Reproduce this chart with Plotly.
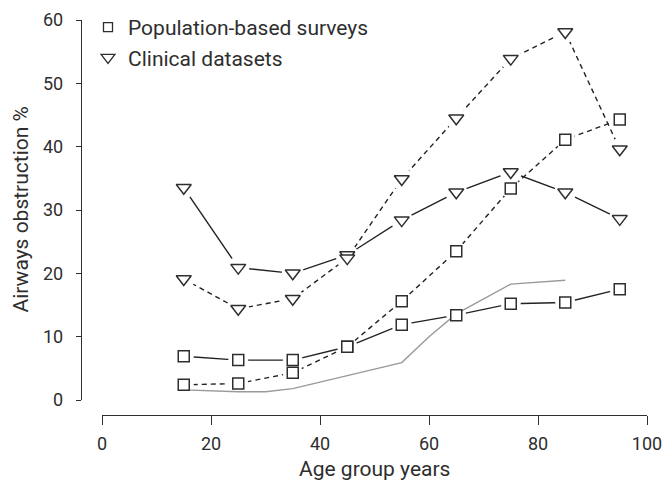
import plotly.graph_objects as go

# ---- data ----
ages = [15, 25, 35, 45, 55, 65, 75, 85, 95]
pop_solid = [6.9, 6.3, 6.3, 8.4, 11.9, 13.4, 15.2, 15.4, 17.5]
pop_dashed = [2.4, 2.6, 4.3, 8.4, 15.6, 23.5, 33.4, 41.1, 44.3]
clin_solid = [33.5, 20.9, 20.0, 22.9, 28.4, 32.8, 36.0, 32.8, 28.6]
clin_dashed = [19.1, 14.4, 16.0, 22.4, 34.9, 44.5, 53.9, 58.1, 39.6]
ref_ages = [15, 25, 30, 35, 55, 60, 65, 75, 85]
ref_values = [1.6, 1.3, 1.3, 1.8, 5.9, 10.0, 13.6, 18.3, 18.9]

x_ticks = [0, 20, 40, 60, 80, 100]
y_ticks = [0, 10, 20, 30, 40, 50, 60]
legend_labels = ["Population-based surveys", "Clinical datasets"]

FONT = "Roboto"
INK = "#2e2e2e"
LINE = "#222222"

series = [
    (pop_solid, "solid", "square", 11),
    (pop_dashed, "5px,4px", "square", 11),
    (clin_solid, "solid", "triangle-down", 13),
    (clin_dashed, "5px,4px", "triangle-down", 13),
]

fig = go.Figure()

# lines
for vals, dash, sym, sz in series:
    fig.add_trace(go.Scatter(x=ages, y=vals, mode="lines",
                             line=dict(color=LINE, width=1.4, dash=dash),
                             showlegend=False, hoverinfo="skip"))
# white halos to create gaps around the markers
for vals, dash, sym, sz in series:
    fig.add_trace(go.Scatter(x=ages, y=vals, mode="markers",
                             marker=dict(symbol="circle", size=sz + 9, color="white",
                                         line=dict(width=0)),
                             showlegend=False, hoverinfo="skip"))
# grey reference line
fig.add_trace(go.Scatter(x=ref_ages, y=ref_values, mode="lines",
                         line=dict(color="#9a9a9a", width=1.4),
                         showlegend=False, hoverinfo="skip"))
# markers
for vals, dash, sym, sz in series:
    fig.add_trace(go.Scatter(x=ages, y=vals, mode="markers",
                             marker=dict(symbol=sym, size=sz, color="white",
                                         line=dict(color=INK, width=1.5)),
                             showlegend=False))
# legend entries
fig.add_trace(go.Scatter(x=[None], y=[None], mode="markers", name=legend_labels[0],
                         marker=dict(symbol="square", size=9, color="white",
                                     line=dict(color=INK, width=1.3))))
fig.add_trace(go.Scatter(x=[None], y=[None], mode="markers", name=legend_labels[1],
                         marker=dict(symbol="triangle-down", size=12, color="white",
                                     line=dict(color=INK, width=1.3))))

L, R, T, B = 81, 18, 20, 66
W, H = 665, 481
pw, ph = W - L - R, H - T - B

fig.update_layout(
    width=W, height=H,
    margin=dict(l=L, r=R, t=T, b=B, pad=0, autoexpand=False),
    paper_bgcolor="white", plot_bgcolor="white",
    font=dict(family=FONT, size=18, color=INK),
    showlegend=True,
    legend=dict(x=(88 - L) / pw, y=1 + 13 / ph, xanchor="left", yanchor="top",
                bgcolor="rgba(0,0,0,0)", font=dict(family=FONT, size=21, color=INK),
                itemwidth=30, tracegroupgap=0),
    xaxis=dict(domain=[(102 - L) / pw, 1], range=[0, 100], anchor="free", position=0,
               tickmode="array", tickvals=x_ticks, ticktext=[str(v) for v in x_ticks],
               showline=True, linecolor=INK, linewidth=1.4,
               ticks="outside", ticklen=9, tickwidth=1.4, tickcolor=INK,
               ticklabelstandoff=3,
               showgrid=False, zeroline=False,
               tickfont=dict(family=FONT, size=18, color=INK)),
    yaxis=dict(domain=[15 / ph, 1], range=[0, 60], anchor="free", position=0,
               tickmode="array", tickvals=y_ticks, ticktext=[str(v) for v in y_ticks],
               showline=True, linecolor=INK, linewidth=1.4,
               ticks="outside", ticklen=5, tickwidth=1.4, tickcolor=INK,
               ticklabelstandoff=9,
               showgrid=False, zeroline=False,
               tickfont=dict(family=FONT, size=18, color=INK)),
    annotations=[
        dict(text="Age group years", xref="paper", yref="paper",
             x=(374.5 - L) / pw, y=(H - B - 469) / ph, xanchor="center", yanchor="middle",
             showarrow=False, font=dict(family=FONT, size=21, color=INK)),
        dict(text="Airways obstruction %", xref="paper", yref="paper",
             x=(20.5 - L) / pw, y=(H - B - 210) / ph, xanchor="center", yanchor="middle",
             textangle=-90, showarrow=False, font=dict(family=FONT, size=21, color=INK)),
    ],
)

fig.write_html("out.html")
